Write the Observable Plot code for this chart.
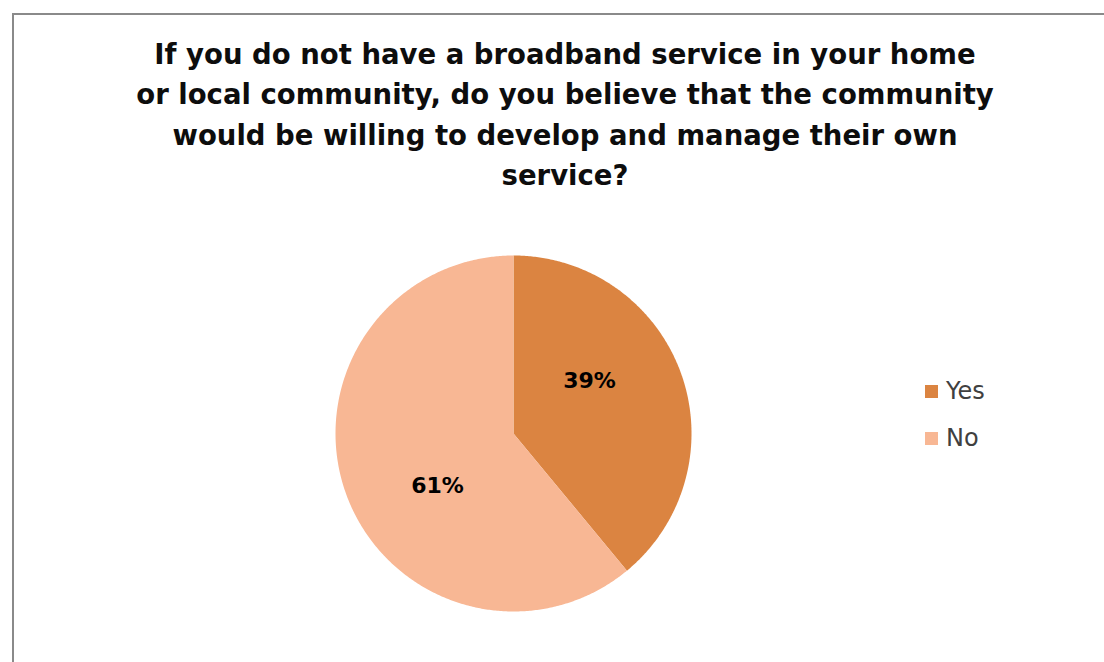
<!DOCTYPE html>
<html>
<head>
<meta charset="utf-8">
<script src="https://cdn.jsdelivr.net/npm/d3@7"></script>
<script src="https://cdn.jsdelivr.net/npm/@observablehq/plot@0.6"></script>
<style>
  html, body { margin: 0; padding: 0; background: #fff; }
  body { width: 1104px; height: 662px; overflow: hidden; position: relative; font-family: "DejaVu Sans", sans-serif; }
  #frame { position: absolute; left: 12px; top: 13px; width: 1120px; height: 720px; border: 2px solid #8a8a8a; box-sizing: border-box; }
  #title { position: absolute; left: 0; top: 34px; width: 1130px; text-align: center; font-weight: bold; font-size: 27.5px; line-height: 40.3px; color: #0d0d0d; }
  #chart { position: absolute; left: 335px; top: 255px; }
  #legend { position: absolute; left: 925px; top: 380px; font-size: 24px; color: #404040; }
  .item { position: relative; height: 47px; }
  .sw { position: absolute; left: 0; top: 5px; width: 13px; height: 13px; }
  .lab { position: absolute; left: 21px; top: -3px; white-space: nowrap; }
</style>
</head>
<body>
<div id="frame"></div>
<div id="title"></div>
<div id="chart"></div>
<div id="legend"></div>
<script>
const titleLines = [
  "If you do not have a broadband service in your home",
  "or local community, do you believe that the community",
  "would be willing to develop and manage their own",
  "service?"
];
const categories = ["Yes", "No"];
const values = [39, 61];
const colors = ["#DB8441", "#F8B794"];

document.getElementById("title").innerHTML = titleLines.join("<br>");

const data = categories.map((c, i) => ({category: c, value: values[i]}));
const total = d3.sum(values);
const arcs = d3.pie().sort(null).value(d => d.value)(data);

// slice outlines in unit-circle coordinates
const slicePts = [];
for (const a of arcs) {
  slicePts.push({category: a.data.category, x: 0, y: 0});
  const n = Math.max(2, Math.ceil((a.endAngle - a.startAngle) / (Math.PI / 360)));
  for (let k = 0; k <= n; k++) {
    const t = a.startAngle + (a.endAngle - a.startAngle) * k / n;
    slicePts.push({category: a.data.category, x: Math.sin(t), y: Math.cos(t)});
  }
}
const labelShift = 15 * Math.PI / 180;
const labels = arcs.map(a => {
  const m = (a.startAngle + a.endAngle) / 2 - labelShift;
  return {text: Math.round(a.data.value / total * 100) + "%", x: 0.52 * Math.sin(m), y: 0.52 * Math.cos(m)};
});

const plot = Plot.plot({
  width: 356,
  height: 356,
  margin: 0,
  x: {domain: [-1, 1], axis: null},
  y: {domain: [-1, 1], axis: null},
  color: {domain: categories, range: colors},
  style: {fontFamily: "DejaVu Sans, sans-serif", background: "transparent", overflow: "visible"},
  marks: [
    Plot.line(slicePts, {x: "x", y: "y", z: "category", fill: "category", stroke: "none", curve: "linear-closed"}),
    Plot.text(labels, {x: "x", y: "y", text: "text", fontSize: 22, fontWeight: "bold", fill: "#000"})
  ]
});
document.getElementById("chart").appendChild(plot);

const legend = document.getElementById("legend");
categories.forEach((c, i) => {
  const it = document.createElement("div");
  it.className = "item";
  it.innerHTML = `<div class="sw" style="background:${colors[i]}"></div><div class="lab">${c}</div>`;
  legend.appendChild(it);
});
</script>
</body>
</html>
